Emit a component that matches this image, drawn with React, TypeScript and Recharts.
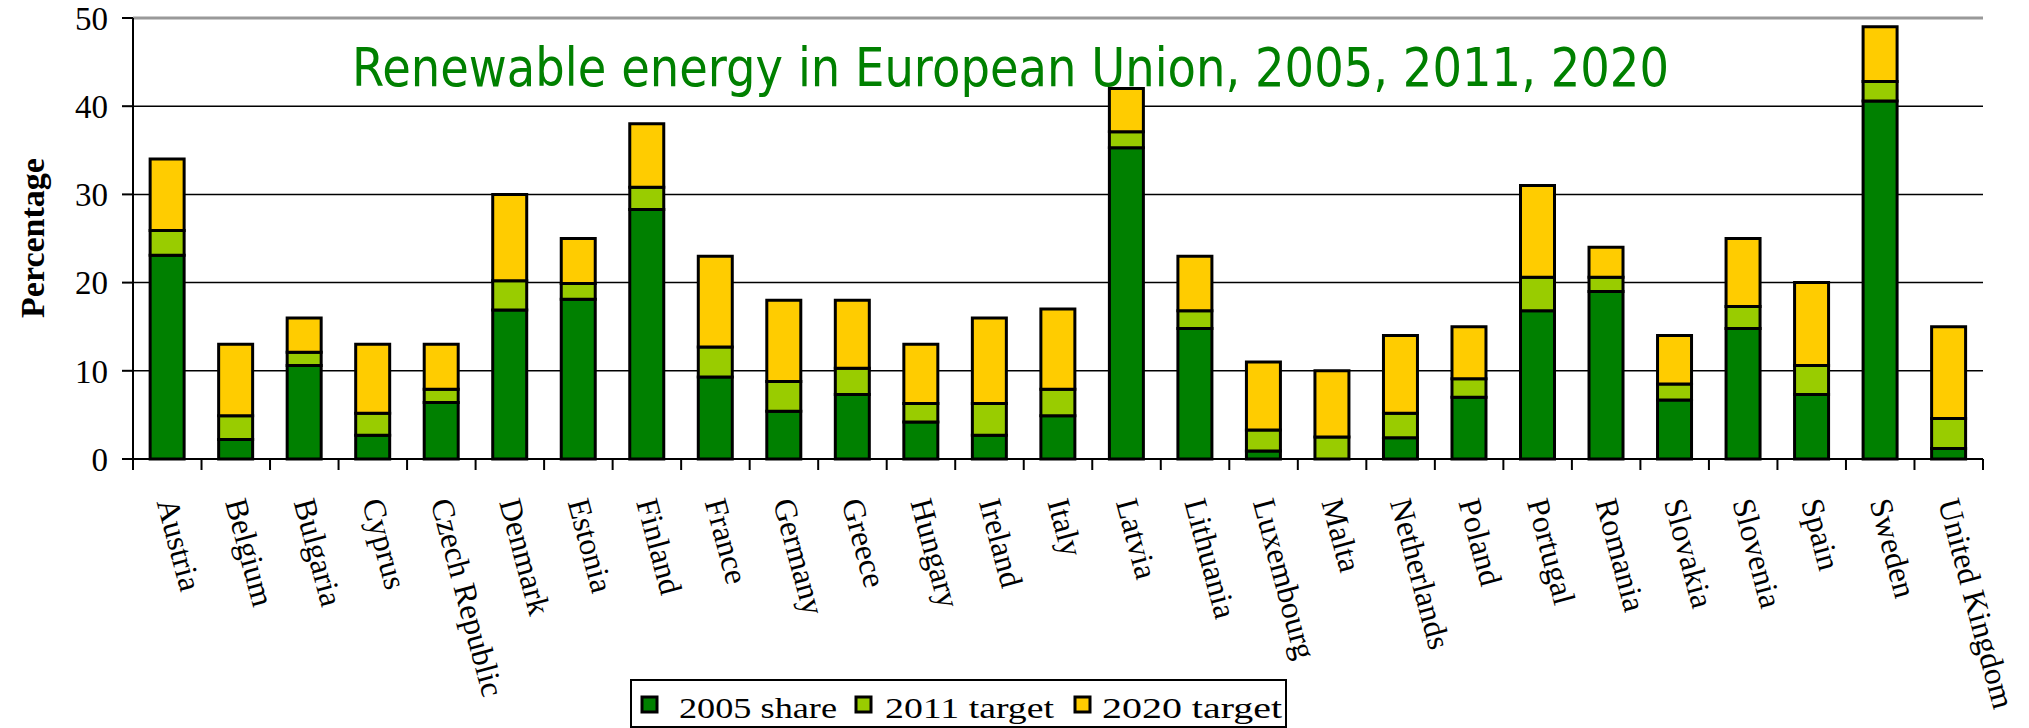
import { Bar, BarChart, CartesianGrid, ReferenceLine, XAxis, YAxis } from "recharts";

// EU renewable energy share (percent)
const countries = [
  "Austria", "Belgium", "Bulgaria", "Cyprus", "Czech Republic", "Denmark", "Estonia",
  "Finland", "France", "Germany", "Greece", "Hungary", "Ireland", "Italy", "Latvia",
  "Lithuania", "Luxembourg", "Malta", "Netherlands", "Poland", "Portugal", "Romania",
  "Slovakia", "Slovenia", "Spain", "Sweden", "United Kingdom",
];
const share2005 = [
  23.1, 2.2, 10.6, 2.7, 6.4, 16.9, 18.1, 28.3, 9.3, 5.4, 7.3, 4.2, 2.7, 4.9, 35.3,
  14.8, 0.9, 0, 2.4, 7.0, 16.8, 19.0, 6.7, 14.8, 7.3, 40.6, 1.2,
];
const target2011 = [
  25.9, 4.9, 12.1, 5.2, 7.9, 20.2, 19.9, 30.8, 12.7, 8.8, 10.3, 6.3, 6.3, 7.9, 37.1,
  16.8, 3.3, 2.5, 5.2, 9.1, 20.6, 20.6, 8.5, 17.3, 10.6, 42.8, 4.6,
];
const target2020 = [
  34, 13, 16, 13, 13, 30, 25, 38, 23, 18, 18, 13, 16, 17, 42,
  23, 11, 10, 14, 15, 31, 24, 14, 25, 20, 49, 15,
];
const yTicks = [0, 10, 20, 30, 40, 50];

const seriesNames = ["2005 share", "2011 target", "2020 target"];
const COLORS = ["#008000", "#99cc00", "#ffcc00"];

// stacked pieces: 2005 share, then the rise to 2011, then the rise to 2020
const data = countries.map((name, i) => ({
  name,
  share: share2005[i],
  rise2011: target2011[i] - share2005[i],
  rise2020: target2020[i] - target2011[i],
}));

const W = 2029;
const H = 728;
const MARGIN = { top: 18, right: 46, bottom: 19, left: 73 };
const Y_AXIS_W = 60;
const PLOT_W = W - MARGIN.left - MARGIN.right - Y_AXIS_W;
const STEP = PLOT_W / countries.length;
const SERIF = "'Liberation Serif', 'Times New Roman', serif";

function CountryTick(props: any) {
  const { x, y, payload, index } = props;
  return (
    <g>
      <line x1={x - STEP / 2} x2={x - STEP / 2} y1={y} y2={y + 11} stroke="#000" strokeWidth={2} />
      {index === countries.length - 1 && (
        <line x1={x + STEP / 2} x2={x + STEP / 2} y1={y} y2={y + 11} stroke="#000" strokeWidth={2} />
      )}
      <text
        transform={`translate(${x},${y + 40}) rotate(75)`}
        dy="0.35em"
        textAnchor="start"
        fontFamily={SERIF}
        fontSize={32}
        fill="#000"
      >
        {payload.value}
      </text>
    </g>
  );
}

// legend pieces: x of marker, x and width of text
const legendX = [642, 856, 1075];
const legendTextX = [679, 885, 1102];
const legendTextW = [158, 169, 180];

export default function App() {
  return (
    <div style={{ position: "absolute", left: 0, top: 0, width: W, height: H, background: "#fff" }}>
      <BarChart width={W} height={H} data={data} margin={MARGIN} barCategoryGap="25%">
        <CartesianGrid vertical={false} stroke="#000" strokeWidth={1.5} />
        <XAxis
          dataKey="name"
          interval={0}
          height={250}
          axisLine={{ stroke: "#000", strokeWidth: 2 }}
          tickLine={false}
          tickSize={0}
          tickMargin={0}
          tick={<CountryTick />}
        />
        <YAxis
          domain={[0, 50]}
          ticks={yTicks}
          width={Y_AXIS_W}
          axisLine={{ stroke: "#000", strokeWidth: 2 }}
          tickLine={{ stroke: "#000", strokeWidth: 2 }}
          tickSize={11}
          tickMargin={14}
          tick={{ fill: "#000", fontFamily: SERIF, fontSize: 33 }}
        />
        <YAxis
          yAxisId="frame"
          orientation="right"
          domain={[0, 50]}
          width={0}
          tick={false}
          tickLine={false}
          axisLine={{ stroke: "#999", strokeWidth: 2 }}
        />
        <ReferenceLine y={50} stroke="#999" strokeWidth={3} />
        <Bar dataKey="share" name={seriesNames[0]} stackId="a" fill={COLORS[0]} stroke="#000" strokeWidth={3} isAnimationActive={false} />
        <Bar dataKey="rise2011" name={seriesNames[1]} stackId="a" fill={COLORS[1]} stroke="#000" strokeWidth={3} isAnimationActive={false} />
        <Bar dataKey="rise2020" name={seriesNames[2]} stackId="a" fill={COLORS[2]} stroke="#000" strokeWidth={3} isAnimationActive={false} />
      </BarChart>
      <svg
        width={W}
        height={H}
        style={{ position: "absolute", left: 0, top: 0, pointerEvents: "none" }}
      >
        <text
          x={352}
          y={86}
          fontFamily="'DejaVu Sans', Verdana, sans-serif"
          fontSize={54}
          fill="#008000"
          textLength={1317}
          lengthAdjust="spacingAndGlyphs"
        >
          Renewable energy in European Union, 2005, 2011, 2020
        </text>
        <text
          transform="translate(44,238) rotate(-90)"
          textAnchor="middle"
          fontFamily={SERIF}
          fontWeight="bold"
          fontSize={34}
          fill="#000"
        >
          Percentage
        </text>
        <rect x={631} y={680} width={655} height={47} fill="#fff" stroke="#000" strokeWidth={2} />
        {seriesNames.map((s, i) => (
          <g key={s}>
            <rect x={legendX[i]} y={697} width={15} height={15} fill={COLORS[i]} stroke="#000" strokeWidth={3} />
            <text
              x={legendTextX[i]}
              y={718}
              fontFamily={SERIF}
              fontSize={30}
              fill="#000"
              textLength={legendTextW[i]}
              lengthAdjust="spacingAndGlyphs"
            >
              {s}
            </text>
          </g>
        ))}
      </svg>
    </div>
  );
}
